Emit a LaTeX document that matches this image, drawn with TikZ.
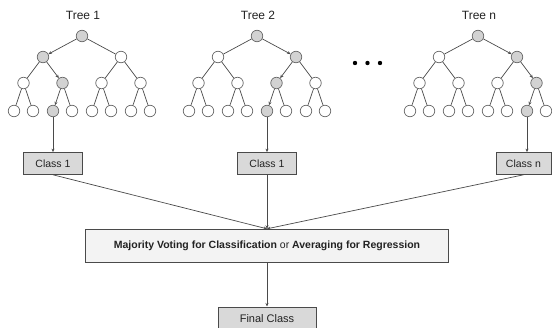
\documentclass[tikz,border=0pt]{standalone}
\usepackage{fontspec}
\setmainfont{Liberation Sans}
\usepackage{xcolor}
\usetikzlibrary{arrows.meta, positioning}

\definecolor{edgegray}{HTML}{4A4A4A}
\definecolor{ringgray}{HTML}{6A6A6A}
\definecolor{hitgray}{HTML}{D2D2D2}
\definecolor{boxgray}{HTML}{D9D9D9}
\definecolor{votegray}{HTML}{F3F3F3}
\definecolor{inkgray}{HTML}{222222}

\begin{document}
\begin{tikzpicture}[x=1pt, y=-1pt,
    >={Stealth[length=3.5pt, width=3pt]},
    knot/.style={circle, draw=ringgray, line width=0.7pt, minimum size=11.5pt, inner sep=0pt},
    hit/.style={fill=hitgray},
    miss/.style={fill=white},
    go/.style={->},
    stay/.style={},
    edge/.style={draw=edgegray, line width=0.7pt},
    title/.style={text=inkgray, font=\fontsize{12}{14}\selectfont},
    cbox/.style={draw=edgegray, fill=boxgray, line width=0.7pt, minimum width=59pt,
        minimum height=22pt, inner sep=0pt, text=inkgray, font=\fontsize{10.5}{12}\selectfont},
    vbox/.style={draw=edgegray, fill=votegray, line width=0.7pt, minimum width=363pt,
        minimum height=33pt, inner sep=0pt, text=inkgray, font=\fontsize{10.5}{12}\selectfont}]

    % Rahmen
    \useasboundingbox (0,0) rectangle (552,327);

    % Baeume
    \foreach \p/\lab/\ox/\ga/\gb/\gc in {t1/1/82/1/2/3, t2/2/257/2/3/5, tn/n/478/2/4/7} {
        \node[title] (\p-title) at (\ox+1, 15) {Tree \lab};
        \node[knot, hit] (\p-r) at (\ox, 36) {};
        % zweite Ebene
        \foreach \i in {1,2} {
            \ifnum\i=\ga \def\st{hit}\def\et{go}\else\def\st{miss}\def\et{stay}\fi
            \node[knot, \st] (\p-a\i) at ({\ox+(2*\i-3)*39}, 57) {};
            \draw[edge, \et] (\p-r) -- (\p-a\i);
        }
        % dritte Ebene
        \foreach \j in {1,...,4} {
            \pgfmathtruncatemacro\up{(\j+1)/2}
            \ifnum\j=\gb \def\st{hit}\def\et{go}\else\def\st{miss}\def\et{stay}\fi
            \node[knot, \st] (\p-b\j) at ({\ox+(\j-2.5)*39}, 83) {};
            \draw[edge, \et] (\p-a\up) -- (\p-b\j);
        }
        % Blaetter
        \foreach \k in {1,...,8} {
            \pgfmathtruncatemacro\up{(\k+1)/2}
            \ifnum\k=\gc \def\st{hit}\def\et{go}\else\def\st{miss}\def\et{stay}\fi
            \node[knot, \st] (\p-c\k) at ({\ox+(\up-2.5)*39+(mod(\k+1,2)*2-1)*9.5}, 111) {};
            \draw[edge, \et] (\p-b\up) -- (\p-c\k);
        }
    }

    % Punkte
    \foreach \dx in {355, 367.5, 380}
        \fill[black] (\dx, 63) circle (2.2pt);

    % Klassen
    \node[cbox, below=35pt of t1-c3] (cls1) {Class 1};
    \node[cbox, below=35pt of t2-c5] (cls2) {Class 1};
    \node[cbox, minimum width=55pt, below=35pt of tn-c7, xshift=-3.5pt] (clsn) {Class n};

    \draw[edge, ->] (t1-c3) -- (cls1);
    \draw[edge, ->] (t2-c5) -- (cls2);
    \draw[edge, ->] (tn-c7) -- (tn-c7 |- clsn.north);

    % Abstimmung
    \node[vbox, below=54pt of cls2] (vote)
        {\textbf{Majority Voting for Classification} or \textbf{Averaging for Regression}};
    \node[cbox, minimum width=98pt, minimum height=24pt, font=\fontsize{11}{13}\selectfont,
        below=44pt of vote] (final) {Final Class};

    \draw[edge, ->] (cls1.south) -- (vote.north);
    \draw[edge, ->] (cls2) -- (vote);
    \draw[edge, ->] (clsn.south) -- (vote.north);
    \draw[edge, ->] (vote) -- (final);
\end{tikzpicture}
\end{document}
